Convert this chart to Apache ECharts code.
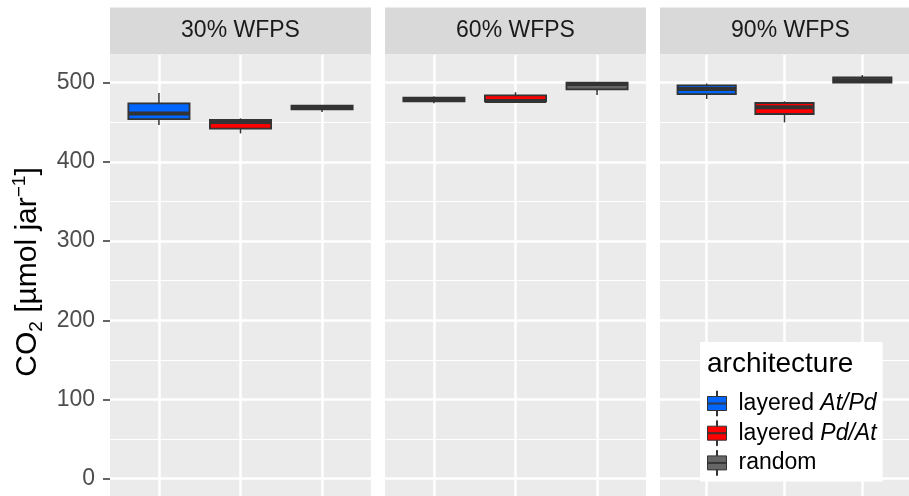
<!DOCTYPE html>
<html>
<head>
<meta charset="utf-8">
<script src="https://cdn.jsdelivr.net/npm/echarts@6/dist/echarts.min.js"></script>
<style>
html,body{margin:0;padding:0;background:#fff;}
#chart{width:909px;height:496px;}
</style>
</head>
<body>
<div id="chart"></div>
<script>
// ---- data ----
const facets = ['30% WFPS', '60% WFPS', '90% WFPS'];
const architectures = ['layered At/Pd', 'layered Pd/At', 'random'];
const archColors = ['#0066FF', '#FF0000', '#666666'];
// [min, Q1, median, Q3, max] for each facet
const layeredAtPd = [[446.6, 454, 461, 474, 487], [474, 476.5, 479, 481, 482.5], [479.5, 485.7, 492, 496.7, 499]];
const layeredPdAt = [[436, 442, 450.4, 453, 455], [476, 476.5, 477, 484, 488], [450, 460.5, 469, 474.4, 476.5]];
const randomArch  = [[463, 466.5, 469, 471, 471.5], [484.5, 491.7, 498.5, 500, 500.5], [500, 500, 503, 506.8, 509.7]];
const yTicks = [0, 100, 200, 300, 400, 500];

const seriesValues = [layeredAtPd, layeredPdAt, randomArch];

// ---- layout ----
const FONT = '"Liberation Sans", Arial, sans-serif';
const panelTop = 55, panelH = 441, panelW = 261;
const panelLefts = [110, 385, 660];
const yMin = -21.8, yMax = 535;
const labelTop = panelTop + (yMax - yTicks[yTicks.length - 1]) / (yMax - yMin) * panelH;
const labelH = (yTicks[yTicks.length - 1] - yTicks[0]) / (yMax - yMin) * panelH;

const grids = [], xAxes = [], yAxes = [], series = [], graphics = [];
panelLefts.forEach((left, p) => {
  grids.push({left: left, width: panelW, top: panelTop, height: panelH, show: true,
    backgroundColor: '#EBEBEB', borderWidth: 0, containLabel: false});
  xAxes.push({type: 'value', gridIndex: p, min: 0.4, max: 3.6, minInterval: 1, maxInterval: 1,
    axisLine: {show: false}, axisTick: {show: false}, axisLabel: {show: false},
    splitLine: {show: true, showMinLine: false, showMaxLine: false, lineStyle: {color: '#FFFFFF', width: 2.5}}});
  yAxes.push({type: 'value', gridIndex: p, min: yMin, max: yMax, minInterval: 100, maxInterval: 100,
    axisLine: {show: false}, axisTick: {show: false}, axisLabel: {show: false},
    minorTick: {show: false, splitNumber: 2},
    minorSplitLine: {show: true, lineStyle: {color: '#FFFFFF', width: 1.2}},
    splitLine: {show: true, showMinLine: false, showMaxLine: false, lineStyle: {color: '#FFFFFF', width: 2.5}}});
  graphics.push({type: 'rect', shape: {x: left, y: 7.5, width: panelW, height: 47}, style: {fill: '#D9D9D9'}, z: 1});
  graphics.push({type: 'text', x: left + panelW / 2, y: 31, z: 2,
    style: {text: facets[p], fill: '#1A1A1A', font: '23px ' + FONT, align: 'center', verticalAlign: 'middle'}});
  architectures.forEach((a, k) => {
    const v = seriesValues[k][p];
    series.push({
      type: 'custom', name: a, xAxisIndex: p, yAxisIndex: p,
      itemStyle: {color: archColors[k]},
      encode: {x: 0, y: [1, 2, 3, 4, 5]},
      data: [[k + 1].concat(v)],
      renderItem: renderBox, z: 3
    });
  });
});

// label-only axis for ticks
grids.push({left: panelLefts[0], width: panelW, top: labelTop, height: labelH, show: false});
xAxes.push({type: 'value', gridIndex: 3, show: false});
yAxes.push({type: 'value', gridIndex: 3, min: yTicks[0], max: yTicks[yTicks.length - 1], interval: 100,
  axisLine: {show: false}, splitLine: {show: false},
  axisTick: {show: true, length: 7, lineStyle: {color: '#333333', width: 1.5}},
  axisLabel: {show: true, color: '#4D4D4D', fontSize: 23, margin: 15, fontFamily: FONT}});

function renderBox(params, api) {
  const x = api.value(0);
  const lo = api.coord([x, api.value(1)]);
  const q1 = api.coord([x, api.value(2)]);
  const med = api.coord([x, api.value(3)]);
  const q3 = api.coord([x, api.value(4)]);
  const hi = api.coord([x, api.value(5)]);
  const w = api.size([0.75, 0])[0];
  const color = api.visual('color');
  return {type: 'group', children: [
    {type: 'line', shape: {x1: lo[0], y1: lo[1], x2: q1[0], y2: q1[1]}, style: {stroke: '#333333', lineWidth: 1.5}},
    {type: 'line', shape: {x1: q3[0], y1: q3[1], x2: hi[0], y2: hi[1]}, style: {stroke: '#333333', lineWidth: 1.5}},
    {type: 'rect', shape: {x: q3[0] - w / 2, y: q3[1], width: w, height: q1[1] - q3[1]}, style: {fill: color, stroke: '#333333', lineWidth: 1.8}},
    {type: 'line', shape: {x1: med[0] - w / 2, y1: med[1], x2: med[0] + w / 2, y2: med[1]}, style: {stroke: '#333333', lineWidth: 4}}
  ]};
}

// y axis title and legend title
graphics.push({type: 'text', x: 28, y: 272, rotation: Math.PI / 2, z: 5,
  style: {text: 'CO{sub|2} [µmol jar{sup|−1}]', fill: '#000000', font: '30px ' + FONT,
    align: 'center', verticalAlign: 'middle', lineHeight: 36,
    rich: {
      sub: {fontSize: 19, lineHeight: 14, verticalAlign: 'bottom', fontFamily: FONT, fill: '#000'},
      sup: {fontSize: 19, lineHeight: 20, verticalAlign: 'top', fontFamily: FONT, fill: '#000'}
    }}});
graphics.push({type: 'text', x: 707, y: 364, z: 100,
  style: {text: 'architecture', fill: '#000000', font: '28px ' + FONT, align: 'left', verticalAlign: 'middle'}});

const legendLabels = {
  'layered At/Pd': 'layered {i|At/Pd}',
  'layered Pd/At': 'layered {i|Pd/At}',
  'random': 'random'
};

const option = {
  animation: false,
  backgroundColor: '#FFFFFF',
  grid: grids,
  xAxis: xAxes,
  yAxis: yAxes,
  legend: {
    data: architectures,
    orient: 'vertical',
    left: 700, top: 342,
    padding: [48.5, 6, 5.5, 7],
    backgroundColor: '#FFFFFF',
    itemWidth: 23, itemHeight: 25, itemGap: 3.7,
    icon: 'path://M11,0L12,0L12,5.5L11,5.5Z M2,5.5L21,5.5L21,19.5L2,19.5Z M2,12L21,12L21,13L2,13Z M11,19.5L12,19.5L12,25L11,25Z',
    itemStyle: {borderColor: '#333333', borderWidth: 1},
    selectedMode: false,
    formatter: n => legendLabels[n],
    textStyle: {fontSize: 23, color: '#000000', fontFamily: FONT, padding: [0, 0, 0, 5],
      rich: {i: {fontStyle: 'italic', fontSize: 23, fontFamily: FONT, color: '#000000'}}}
  },
  graphic: graphics,
  series: series
};

const chart = echarts.init(document.getElementById('chart'), null, {renderer: 'canvas'});
chart.setOption(option);
</script>
</body>
</html>
